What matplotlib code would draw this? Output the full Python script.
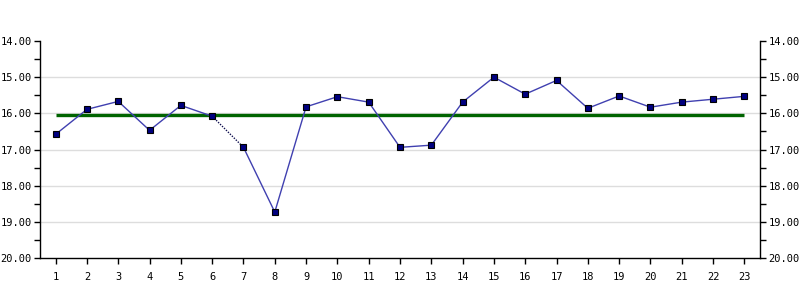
import matplotlib
matplotlib.use("Agg")
import matplotlib.pyplot as plt
from matplotlib.ticker import MultipleLocator, FormatStrFormatter

x = list(range(1, 24))
values = [16.58, 15.89, 15.67, 16.47, 15.78, 16.08, 16.94, 18.73, 15.82, 15.54,
          15.69, 16.94, 16.88, 15.69, 15.00, 15.47, 15.09, 15.86, 15.52, 15.83,
          15.69, 15.61, 15.53]
average = 16.04

plt.rcParams["font.family"] = ["DejaVu Sans Mono"]
plt.rcParams["font.size"] = 7.5

fig = plt.figure(figsize=(8, 3), dpi=100)
ax = fig.add_axes([0.05, 0.14, 0.90, 0.7233])

for v in [15, 16, 17, 18, 19]:
    ax.axhline(v, color="#dddddd", lw=1, zorder=0)

ax.plot([x[0], x[-1]], [average, average], color="#006400", lw=2.4, zorder=2, solid_capstyle="butt")

ax.plot(x[:6], values[:6], color="#4040b0", lw=1, zorder=3)
ax.plot(x[5:7], values[5:7], color="#101050", lw=1, ls=(0, (1, 1)), zorder=3)
ax.plot(x[6:], values[6:], color="#4040b0", lw=1, zorder=3)
ax.plot(x, values, ls="none", marker="s", ms=4.5, mfc="#000080", mec="black", mew=0.8, zorder=4)

ax.set_xlim(0.5, 23.5)
ax.set_ylim(20, 14)
ax.set_xticks(x)
ax.set_xticklabels([str(i) for i in x])
ax.yaxis.set_major_locator(MultipleLocator(1))
ax.yaxis.set_minor_locator(MultipleLocator(0.5))
ax.yaxis.set_major_formatter(FormatStrFormatter("%.2f"))

ax.spines["top"].set_visible(False)
for s in ["left", "right", "bottom"]:
    ax.spines[s].set_linewidth(1)
    ax.spines[s].set_color("black")

ax.tick_params(axis="y", which="both", length=4, width=1, direction="out",
               left=True, right=True, labelleft=True, labelright=True, pad=2,
               labelsize=7.5)
ax.tick_params(axis="x", length=4, width=1, direction="out", pad=6, labelsize=7.5)

fig.savefig("out.png", dpi=100, facecolor="white")
